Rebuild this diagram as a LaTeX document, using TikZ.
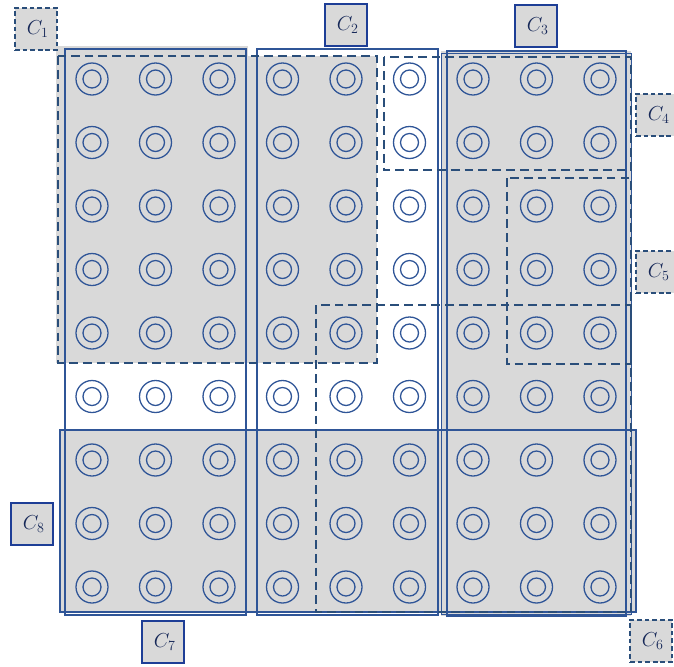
\documentclass[tikz,border=0pt]{standalone}
\usepackage{amsmath}
\usepackage{xcolor}
\usepackage{tikz}
\usetikzlibrary{positioning}

\definecolor{cblue}{RGB}{47,85,151}
\definecolor{cdash}{RGB}{42,78,122}
\definecolor{ctag}{RGB}{30,62,150}
\definecolor{cgrey}{RGB}{217,217,217}
\definecolor{ctext}{RGB}{22,40,88}

\tikzset{
  hole/.style={draw=cblue, line width=1.1pt},
  block/.style={draw=cblue, line width=1.6pt},
  zone/.style={draw=cdash, line width=1.6pt, dash pattern=on 7.5pt off 4.3pt},
  tagbox/.style={draw=ctag, fill=cgrey, line width=1.1pt, minimum width=1.26cm,
    minimum height=1.26cm, inner sep=0pt, text=ctext, font=\LARGE},
  tagdash/.style={tagbox, draw=cdash, dash pattern=on 4pt off 2.5pt}
}

\begin{document}
\begin{tikzpicture}[x=0.03cm, y=-0.03cm]
    \useasboundingbox (0,0) rectangle (674,666);
    % grey zones
    \fill[cgrey] (56,46) rectangle (248,363);
    \fill[cgrey] (58,56) rectangle (377,363);
    \fill[cgrey] (441,51) rectangle (631,616);
    \fill[cgrey] (60,430) rectangle (636,612);
    % holes
    \foreach \i in {0,...,8}
      \foreach \j in {0,...,8} {
        \draw[hole] (92+63.5*\i, 79+63.5*\j) circle[radius=0.48cm];
        \draw[hole] (92+63.5*\i, 79+63.5*\j) circle[radius=0.27cm];
      }
    % solid blocks
    \draw[block] (65,49) rectangle (246,615);
    \draw[block] (257,49) rectangle (438,615);
    \draw[cblue, line width=0.7pt] (441,53) rectangle (631,614);
    \draw[block] (447,51) rectangle (626,616);
    \draw[block] (60,430) rectangle (636,612);
    % dashed zones
    \draw[zone] (58,56) rectangle (377,363);
    \draw[zone] (384,57) rectangle (631,170);
    \draw[zone] (507,178) rectangle (631,364);
    \draw[zone] (316,305) rectangle (631,612);
    % tags
    \node[tagdash] (c1) at (36,29) {$\,C_1$};
    \node[tagbox]  (c2) at (346,25) {$\,C_2$};
    \node[tagbox]  (c3) at (536,26) {$\,C_3$};
    \node[tagdash] (c4) at (657,115) {$\,C_4$};
    \node[tagdash] (c5) at (657,272) {$\,C_5$};
    \node[tagdash] (c6) at (651,641) {$\,C_6$};
    \node[tagbox]  (c7) at (163,642) {$\,C_7$};
    \node[tagbox]  (c8) at (32,524) {$\,C_8$};
  \end{tikzpicture}
\end{document}
